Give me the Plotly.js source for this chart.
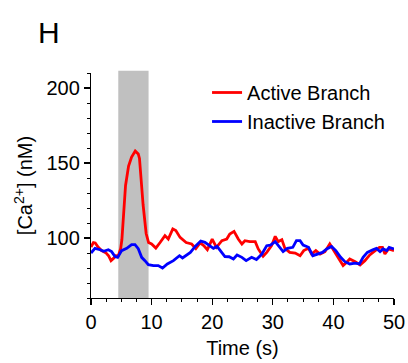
<!DOCTYPE html>
<html>
<head>
<meta charset="utf-8">
<script src="https://cdn.plot.ly/plotly-3.0.1.min.js"></script>
<style>html,body{margin:0;padding:0;background:#fff;}#chart{width:408px;height:363px;}</style>
</head>
<body>
<div id="chart"></div>
<script>
// Time (s) and [Ca2+] (nM) for the active branch
var timeActive = [0, 0.4, 0.7, 1.2, 1.75, 2.5, 2.9, 3.3, 3.7, 4.1, 4.5, 4.9, 5.1, 5.7, 6.2, 6.7, 7.3, 7.8, 8.0, 8.6, 9.1, 9.5, 10, 10.7, 11.4, 12.2, 12.75, 13.5, 14, 14.7, 15.7, 16.6, 17.3, 18, 18.6, 19.2, 20, 20.7, 21.6, 22.4, 22.9, 23.6, 24.3, 24.9, 25.4, 26.2, 27.1, 27.6, 28.4, 29, 29.8, 30.4, 30.9, 31.5, 32, 32.8, 33.7, 34.5, 35.1, 35.9, 36.4, 37.1, 37.8, 38.6, 39.4, 40.1, 40.8, 41.6, 42.2, 42.7, 43.6, 44.4, 45.2, 46, 46.9, 47.6, 48.1, 48.5, 49.1, 50];
var caActive = [94, 97, 96.7, 93.8, 91.6, 90, 88.2, 84.9, 86.4, 88.2, 88, 93, 99, 135, 148, 154, 158, 156, 153, 122, 103, 97, 96, 93.3, 97, 101.6, 99.3, 106, 105, 100.4, 97, 96, 93, 96.7, 95, 92.2, 99.3, 93.8, 98.2, 99.3, 102.7, 104.4, 99.3, 96, 98.2, 97.6, 97.6, 92.7, 87.8, 90.4, 94.9, 101.1, 97.6, 98.9, 93.1, 90.4, 90, 88.2, 91.6, 93.1, 89.3, 91.6, 89.3, 90.9, 96, 91.6, 87.1, 81.6, 83.8, 86, 84.2, 82, 84.9, 88.7, 91.6, 93.8, 93.8, 89.3, 92.7, 91.6];

// Time (s) and [Ca2+] (nM) for the inactive branch
var timeInactive = [0, 0.66, 1.5, 2.1, 2.86, 3.4, 3.96, 4.4, 5.06, 5.9, 6.7, 7.26, 7.8, 8.36, 8.9, 9.46, 10.3, 11.1, 11.8, 12.6, 13.6, 14.6, 15.1, 15.8, 16.4, 17.2, 18.1, 18.8, 19.5, 20.2, 20.8, 21.6, 22.1, 22.8, 23.5, 24.1, 24.9, 25.6, 26.5, 27.3, 28.2, 29, 29.6, 30.4, 31.1, 31.7, 32.4, 33.3, 33.9, 34.5, 35, 35.9, 36.6, 37.3, 38.2, 38.9, 39.7, 40.4, 41.2, 41.9, 42.7, 43.6, 44.3, 44.9, 45.6, 46.5, 47.1, 47.7, 48.2, 48.8, 49.2, 50];
var caInactive = [90, 93.1, 92.2, 91.1, 92.2, 90.9, 87.6, 87.1, 91.6, 93.1, 95.6, 95.6, 92.9, 87.1, 84.9, 82.2, 81.6, 81.6, 80, 82.7, 84.9, 88.2, 86.7, 88.7, 90.4, 94.4, 98, 97.1, 94.9, 93.1, 94.4, 90.4, 87.6, 87.5, 86, 88.7, 87.1, 84.9, 87.1, 85.6, 89.3, 94.9, 95.3, 97.6, 93.8, 90.9, 93.1, 93.8, 98.2, 98.2, 95.3, 93.8, 88.2, 89.3, 90.4, 92.7, 94.4, 91.6, 87.1, 84.2, 82.7, 83.3, 82.7, 87.1, 90.4, 92.2, 93.1, 90.9, 92.7, 91.6, 93.8, 92.7];

// Stimulus window (s)
var stimStart = 4.5;
var stimEnd = 9.5;

var seriesNames = ['Active Branch', 'Inactive Branch'];

var font = 'Liberation Sans, Arial, sans-serif';

var traces = [
  {x: timeActive, y: caActive, type: 'scatter', mode: 'lines', name: seriesNames[0],
   line: {color: '#ff0000', width: 2.8}},
  {x: timeInactive, y: caInactive, type: 'scatter', mode: 'lines', name: seriesNames[1],
   line: {color: '#0000ff', width: 2.8}}
];

var layout = {
  width: 408, height: 363,
  margin: {l: 91, r: 14, t: 73, b: 65},
  paper_bgcolor: '#ffffff', plot_bgcolor: '#ffffff',
  font: {family: font, size: 20, color: '#000'},
  showlegend: true,
  legend: {x: 0.383, y: 1.0, xanchor: 'left', yanchor: 'top', bgcolor: 'rgba(0,0,0,0)',
           font: {family: font, size: 20, color: '#000'}, tracegroupgap: 0},
  xaxis: {
    range: [0, 50], tick0: 0, dtick: 10, showgrid: false, zeroline: false,
    showline: true, linecolor: '#000', linewidth: 1.2,
    ticks: 'outside', ticklen: 6, tickcolor: '#000', tickwidth: 1.2,
    minor: {dtick: 2.5, ticks: 'outside', ticklen: 3, tickcolor: '#000', tickwidth: 1},
    tickfont: {family: font, size: 20, color: '#000'},
    title: {text: 'Time (s)', font: {family: font, size: 20, color: '#000'}, standoff: 8}
  },
  yaxis: {
    range: [60, 210], tick0: 0, dtick: 50, showgrid: false, zeroline: false,
    showline: true, linecolor: '#000', linewidth: 1.2,
    ticks: 'outside', ticklen: 6, tickcolor: '#000', tickwidth: 1.2,
    minor: {dtick: 10, ticks: 'outside', ticklen: 3, tickcolor: '#000', tickwidth: 1},
    tickfont: {family: font, size: 20, color: '#000'},
    title: {text: '[Ca<sup>2+</sup>] (nM)', font: {family: font, size: 20, color: '#000'}, standoff: 8}
  },
  shapes: [{type: 'rect', xref: 'x', yref: 'paper', x0: stimStart, x1: stimEnd, y0: 0, y1: 1.01,
            fillcolor: '#c0c0c0', line: {width: 0}, layer: 'below'}],
  annotations: [{text: 'H', xref: 'paper', yref: 'paper', x: -0.139, y: 1.18,
                 xanchor: 'center', yanchor: 'middle', showarrow: false,
                 font: {family: font, size: 30, color: '#000'}}]
};

Plotly.newPlot('chart', traces, layout, {displayModeBar: false, staticPlot: true});
</script>
</body>
</html>
